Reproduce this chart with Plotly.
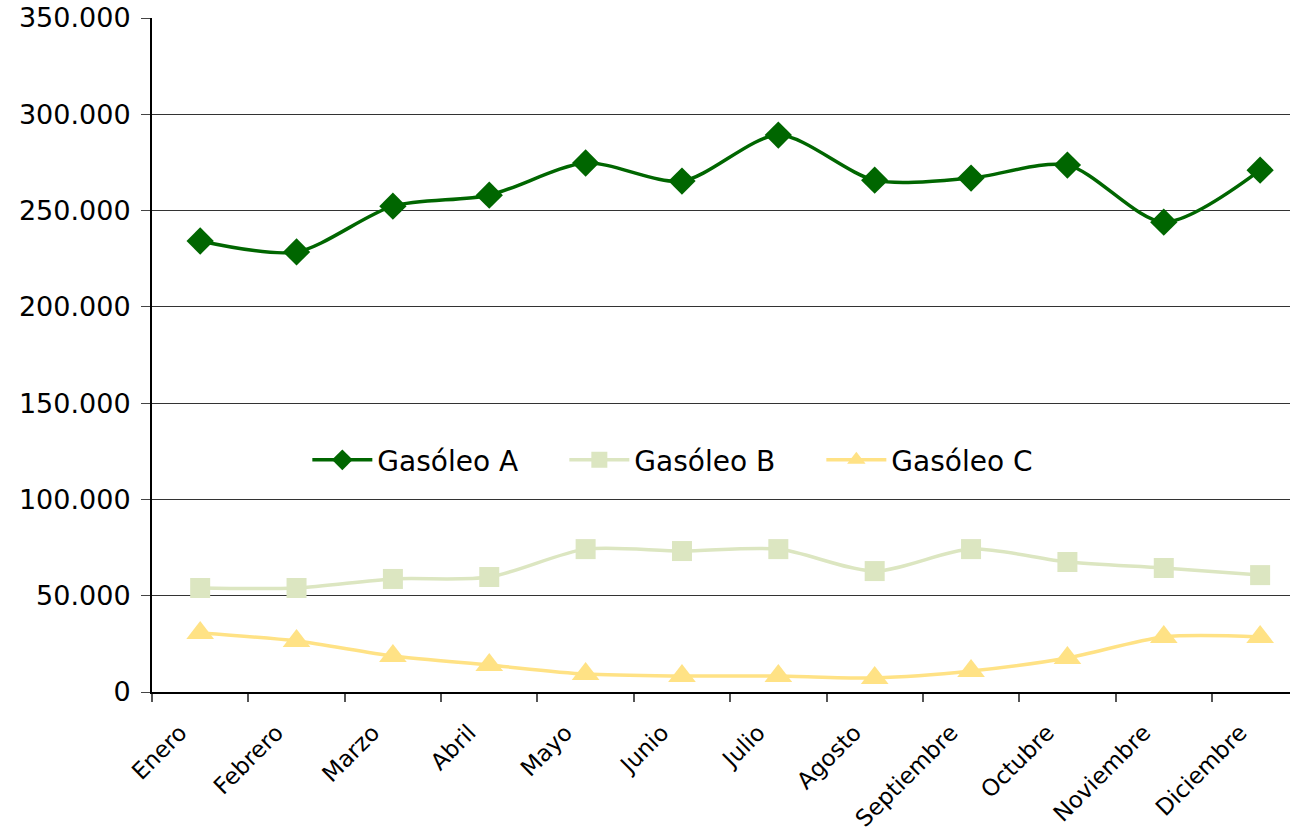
import plotly.graph_objects as go

meses = ["Enero", "Febrero", "Marzo", "Abril", "Mayo", "Junio", "Julio",
         "Agosto", "Septiembre", "Octubre", "Noviembre", "Diciembre"]
gasoleo_a = [234200, 228500, 252300, 258000, 274700, 265300, 289200,
             265800, 266900, 273600, 244000, 271000]
gasoleo_b = [54000, 54000, 58700, 59700, 74200, 73200, 74200,
             62800, 74200, 67500, 64400, 60700]
gasoleo_c = [30600, 26500, 18700, 14000, 9300, 8300, 8300,
             7300, 10900, 17700, 28600, 28600]
y_ticks = [0, 50000, 100000, 150000, 200000, 250000, 300000, 350000]
y_labels = ["0", "50.000", "100.000", "150.000", "200.000", "250.000", "300.000", "350.000"]

FONT = "Verdana, DejaVu Sans, sans-serif"

fig = go.Figure()
fig.add_trace(go.Scatter(
    x=meses, y=gasoleo_a, name="Gasóleo A", mode="lines+markers",
    line=dict(color="#006600", width=3.5, shape="spline", smoothing=0.8),
    marker=dict(symbol="diamond", size=21, color="#006600")))
fig.add_trace(go.Scatter(
    x=meses, y=gasoleo_b, name="Gasóleo B", mode="lines+markers",
    line=dict(color="#DCE6C1", width=3.5, shape="spline", smoothing=0.8),
    marker=dict(symbol="square", size=20, color="#DCE6C1")))
fig.add_trace(go.Scatter(
    x=meses, y=gasoleo_c, name="Gasóleo C", mode="lines+markers",
    line=dict(color="#FFE285", width=3.5, shape="spline", smoothing=0.8),
    marker=dict(symbol="triangle-up", size=24, color="#FFE285")))

fig.update_layout(
    width=1290, height=835,
    margin=dict(l=152, r=0, t=18, b=143, autoexpand=False),
    paper_bgcolor="white", plot_bgcolor="white",
    font=dict(family=FONT, color="#000000"),
    showlegend=True,
    legend=dict(orientation="h", x=0.1365, y=0.344, xanchor="left", yanchor="middle",
                font=dict(size=28, family=FONT), bgcolor="rgba(0,0,0,0)",
                entrywidth=182, entrywidthmode="pixels", itemwidth=60, tracegroupgap=0),
    xaxis=dict(type="category", range=[-0.5, 11.31], tickangle=-45,
               tickson="boundaries", ticks="outside", ticklen=8, tickcolor="#555555",
               tickwidth=1.5, showline=True, linecolor="black", linewidth=2,
               showgrid=False, tickfont=dict(size=23, family=FONT),
               ticklabelshift=-20, ticklabelstandoff=16),
    yaxis=dict(range=[0, 350000], tickvals=y_ticks, ticktext=y_labels,
               ticks="outside", ticklen=9, tickcolor="#444444",
               showline=True, linecolor="black", linewidth=2,
               showgrid=True, gridcolor="#333333", gridwidth=1,
               zeroline=False, tickfont=dict(size=27, family=FONT),
               ticklabelstandoff=5),
)

fig.write_html("out.html", config={"displayModeBar": False},
               post_script="document.body.style.margin='0px';document.body.style.overflow='hidden';")
